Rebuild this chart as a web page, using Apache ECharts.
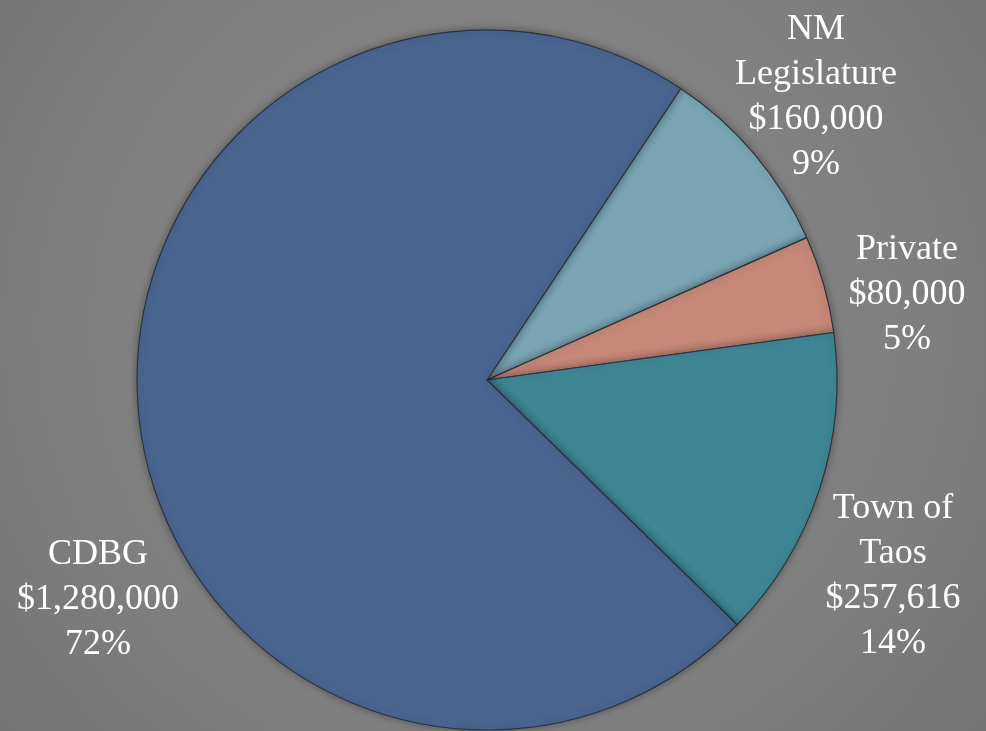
<!DOCTYPE html>
<html>
<head>
<meta charset="utf-8">
<script src="https://cdn.jsdelivr.net/npm/echarts@6/dist/echarts.min.js"></script>
<style>
  html, body { margin: 0; padding: 0; }
  #show { width: 986px; height: 731px; background: radial-gradient(circle at 50% 45%, #8a8a8a 0%, #7e7e7e 70%, #747474 100%); }
</style>
</head>
<body>
<div id="show"></div>
<script>
// 数据
var names = ['NM\nLegislature', 'Private', 'Town of\nTaos', 'CDBG'];
var amounts = [160000, 80000, 257616, 1280000];
var amountText = ['$160,000', '$80,000', '$257,616', '$1,280,000'];
var pctText = ['9%', '5%', '14%', '72%'];
var colors = ['#7ba5b4', '#c68878', '#3f8694', '#4a6590'];
// 标签中心位置
var labelPos = [[816, 97], [907, 295], [893, 576], [98, 600]];

var myChart = echarts.init(document.getElementById('show'));
var data = [];
for (var i = 0; i < names.length; i++) {
    data.push({
        value: amounts[i],
        name: names[i],
        itemStyle: {color: colors[i]}
    });
}
var option = {
    backgroundColor: 'transparent',
    series: [{
        type: 'pie',
        radius: 350,
        center: [487, 380],
        startAngle: 56.4,
        clockwise: true,
        animation: false,
        data: data,
        itemStyle: {
            borderColor: '#2b3440',
            borderWidth: 1.2,
            shadowBlur: 8,
            shadowColor: 'rgba(0,0,0,0.35)'
        },
        label: {
            show: true,
            position: 'outside',
            color: '#ffffff',
            fontFamily: 'Liberation Serif',
            fontSize: 36,
            lineHeight: 45,
            align: 'center',
            overflow: 'none',
            formatter: function (p) {
                return names[p.dataIndex] + '\n' + amountText[p.dataIndex] + '\n' + pctText[p.dataIndex];
            }
        },
        labelLayout: function (params) {
            var p = labelPos[params.dataIndex];
            return {x: p[0], y: p[1], align: 'center', verticalAlign: 'middle'};
        },
        labelLine: {show: false},
        emphasis: {disabled: true}
    }]
};
myChart.setOption(option);
</script>
</body>
</html>
